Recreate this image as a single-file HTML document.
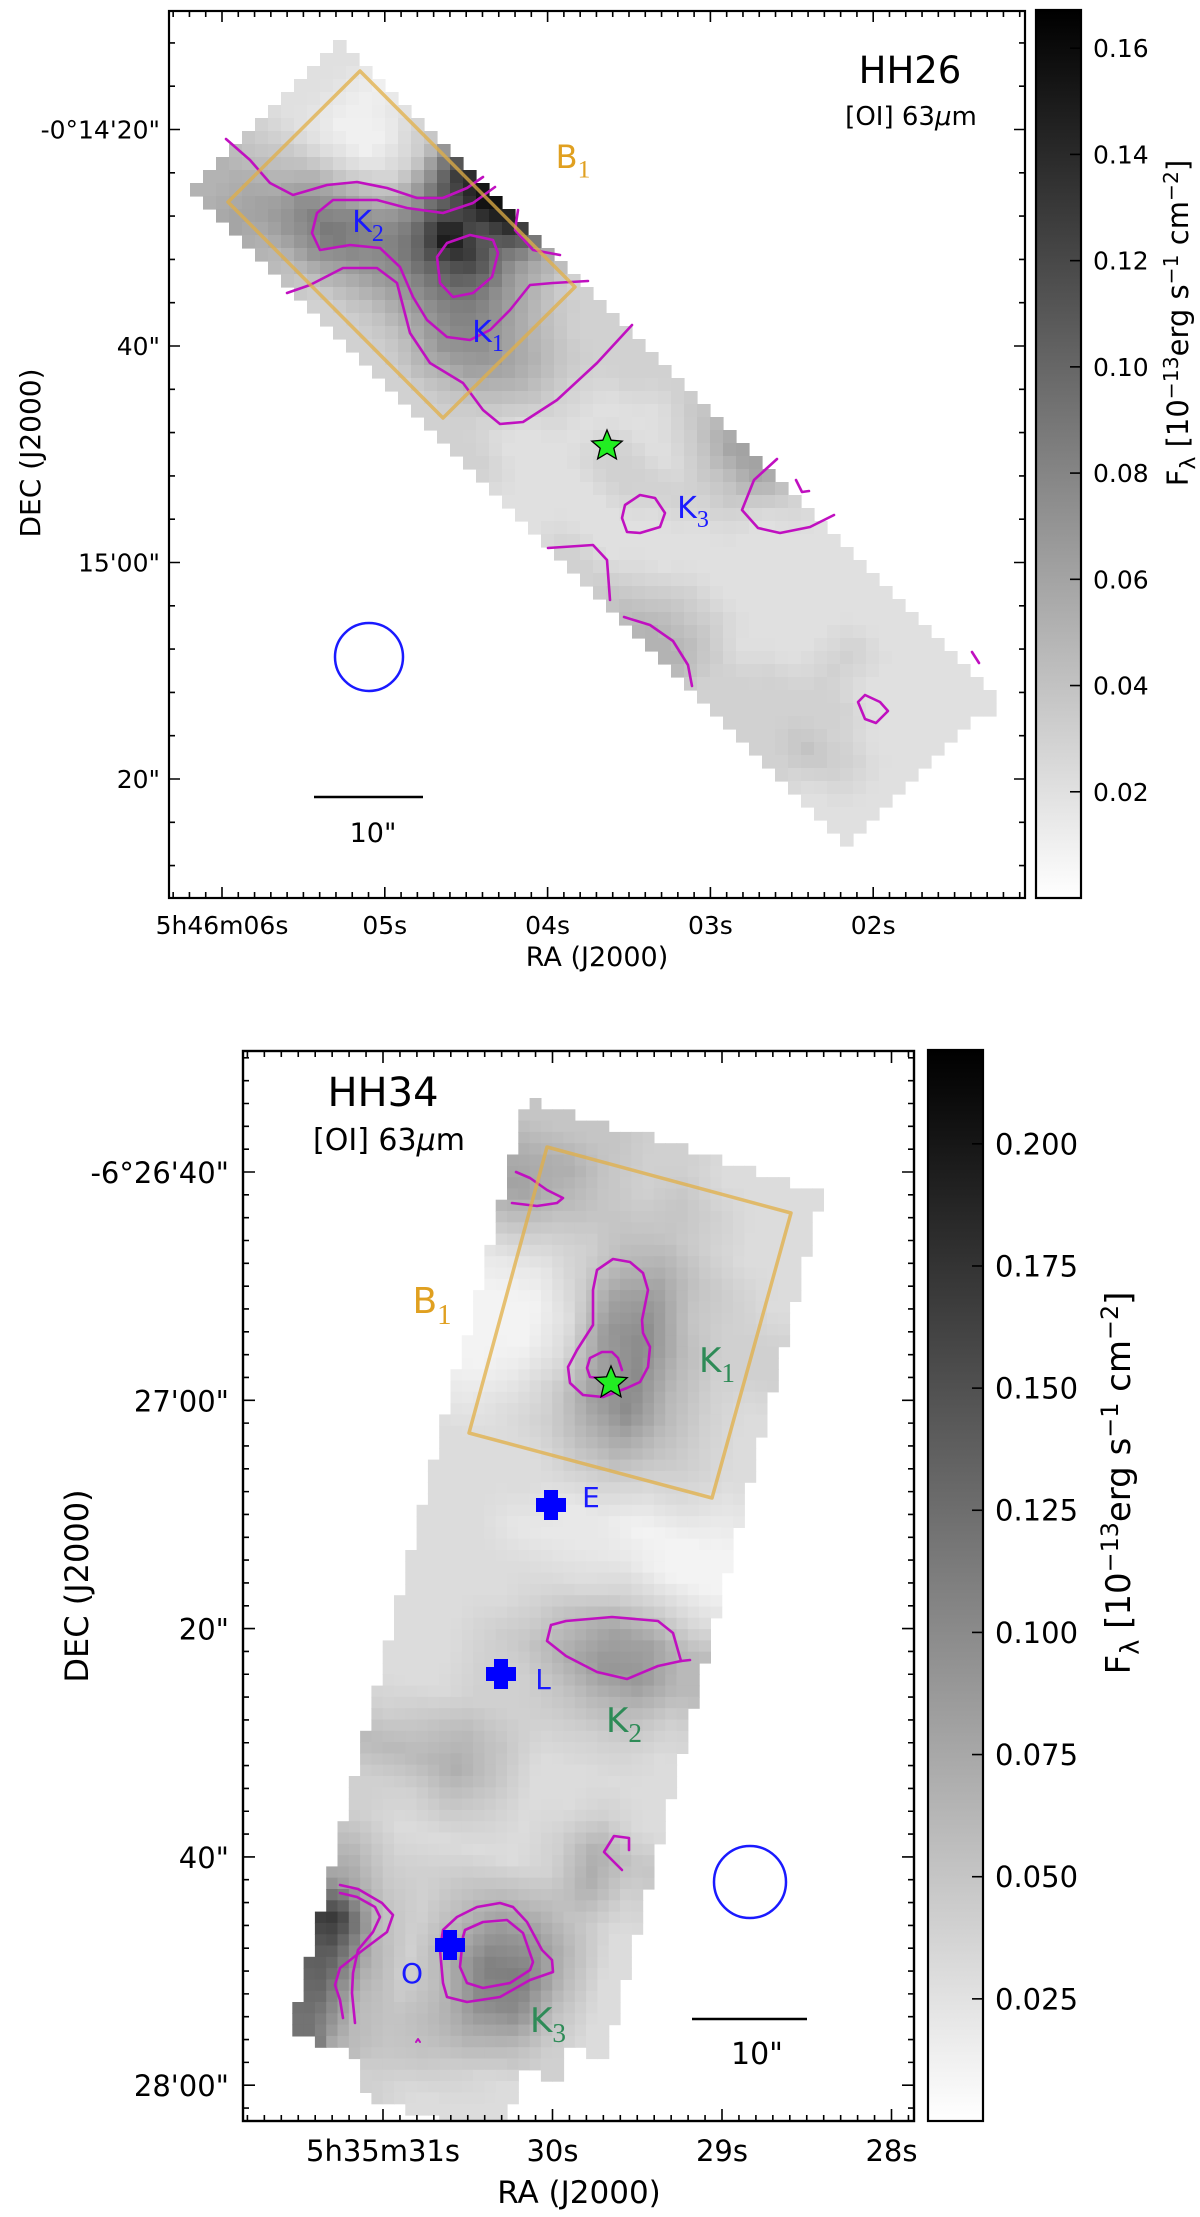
<!DOCTYPE html>
<html><head><meta charset="utf-8"><style>
html,body{margin:0;padding:0;background:#fff;}
svg{display:block;}
text{font-family:"DejaVu Sans","Liberation Sans",sans-serif;}
</style></head>
<body>
<svg id="fig" xmlns="http://www.w3.org/2000/svg" width="1200" height="2217" viewBox="0 0 1200 2217">
<defs>
<linearGradient id="cbgrad" x1="0" y1="1" x2="0" y2="0">
<stop offset="0" stop-color="#ffffff"/><stop offset="1" stop-color="#000000"/>
</linearGradient>
<clipPath id="clipTop"><rect x="169" y="11" width="856" height="887"/></clipPath>
<clipPath id="clipBot"><rect x="243" y="1051" width="671" height="1070"/></clipPath>
</defs>
<g id="topPanel">
<g id="topMap" clip-path="url(#clipTop)"></g>
<g id="topOverlay" clip-path="url(#clipTop)"></g>
<g id="topAxes"></g>
</g>
<g id="botPanel">
<g id="botMap" clip-path="url(#clipBot)"></g>
<g id="botOverlay" clip-path="url(#clipBot)"></g>
<g id="botAxes"></g>
</g>
</svg>
<script>
// ===== DATA: HH26 map (flux in 1e-15 units, rows along strip NW->SE, cols across) =====
const topGrid = [
[5,5,4,3,2,2,2,2],
[6,6,5,4,2,1,1,1],
[5,7,8,6,3,1,1,2],
[4,7,9,8,5,3,3,4],
[3,5,7,8,8,8,10,13],
[3,4,6,8,11,16,12,16],
[3,4,6,8,10,12,10,14],
[3,5,7,8,8,7,6,6],
[3,4,6,7,6,5,4,3],
[3,3,4,5,5,4,3,3],
[3,2,2,3,3,3,3,3],
[2,2,2,2,2,2,3,3],
[2,2,2,3,3,2,2,3],
[3,2,2,3,3,2,3,4],
[3,2,2,2,3,3,4,6],
[4,3,2,2,2,3,4,6],
[5,4,3,2,2,2,2,3],
[5,4,3,2,2,2,2,2],
[3,3,2,2,2,2,2,2],
[3,3,3,2,2,2,2,2],
[3,3,3,3,3,3,2,2],
[3,4,3,3,2,2,2,2],
[2,3,3,2,2,2,2,2],
[2,2,2,2,2,2,2,2]
];
const topVmax = 16.7;
const topRAlabels = ['5h46m06s','05s','04s','03s','02s'];
const topRAsec = [0,1,2,3,4];
const topDecLabels = ['-0°14\'20"','40"','15\'00"','20"'];
const topDecArcsec = [20,40,60,80];
const topCbTicks = [0.02,0.04,0.06,0.08,0.10,0.12,0.14,0.16];
const topCbLabels = ['0.02','0.04','0.06','0.08','0.10','0.12','0.14','0.16'];

// ===== DATA: HH34 map =====
const botGrid = [
[5,5,5,4,4,3,3,3],
[7,7,5,4,5,4,3,3],
[8,6,5,5,5,4,3,3],
[5,4,4,6,7,5,4,3],
[2,2,4,8,9,5,4,4],
[1,1,3,9,10,6,4,4],
[1,1,3,8,10,6,4,3],
[1,2,4,8,10,6,4,3],
[2,3,4,6,7,5,4,3],
[3,3,3,4,4,3,3,2],
[3,3,3,2,2,1,1,1],
[3,3,2,2,2,2,1,1],
[3,3,3,3,3,4,4,3],
[3,3,3,4,6,8,8,6],
[3,3,4,5,7,9,9,6],
[3,3,4,4,5,6,6,4],
[3,3,4,4,4,4,4,3],
[4,5,6,5,3,3,3,3],
[6,6,7,5,3,3,4,3],
[4,4,5,4,3,4,7,5],
[4,3,3,3,3,4,7,4],
[6,4,4,5,6,6,5,3],
[8,5,4,6,9,9,6,3],
[17,6,4,7,11,11,6,3],
[14,7,4,6,10,10,5,3],
[13,6,5,6,7,6,4,-1],
[12,6,5,5,4,3,-1,-1],
[-1,-1,4,3,3,3,-1,-1]
];
const botVmax = 21.9;
const botRAlabels = ['5h35m31s','30s','29s','28s'];
const botRAsec = [0,1,2,3];
const botDecLabels = ['-6°26\'40"','27\'00"','20"','40"','28\'00"'];
const botDecArcsec = [40,60,80,100,120];
const botCbTicks = [0.025,0.050,0.075,0.100,0.125,0.150,0.175,0.200];
const botCbLabels = ['0.025','0.050','0.075','0.100','0.125','0.150','0.175','0.200'];

const NS='http://www.w3.org/2000/svg';
function el(tag, attrs, parent){const e=document.createElementNS(NS,tag);for(const k in attrs)e.setAttribute(k,attrs[k]);if(parent)parent.appendChild(e);return e;}

// ---- axis functions ----
const topX = s => 222 + s*162.8;
const topY = d => 129.5 + (d-20)*10.825;
const topCbY = f => 898 - f/0.167*887;
const botX = s => 383 + s*169.5;
const botY = d => 1172 + (d-40)*11.415;
const botCbY = f => 2121 - f/0.219*1070;

function grayOf(v,vmax){let t=Math.max(0,Math.min(1,v/vmax));const g=Math.round(255*(1-t));return 'rgb('+g+','+g+','+g+')';}

function sampleGrid(grid,u,v){
  const R=grid.length,C=grid[0].length;
  const ni=Math.min(R-1,Math.floor(u*R)), nj=Math.min(C-1,Math.floor(v*C));
  if(grid[ni][nj]<0) return -1;
  const fu=u*R-0.5, fv=v*C-0.5;
  const i0=Math.max(0,Math.min(R-1,Math.floor(fu))), i1=Math.min(R-1,i0+1);
  const j0=Math.max(0,Math.min(C-1,Math.floor(fv))), j1=Math.min(C-1,j0+1);
  const a=Math.max(0,Math.min(1,fu-i0)), b=Math.max(0,Math.min(1,fv-j0));
  const g=(i,j)=>grid[i][j]<0?grid[ni][nj]:grid[i][j];
  return (1-a)*((1-b)*g(i0,j0)+b*g(i0,j1))+a*((1-b)*g(i1,j0)+b*g(i1,j1));
}

function drawMap(parent,grid,vmax,origin,eu,ev,pix,name){
  const det=eu[0]*ev[1]-ev[0]*eu[1];
  const xs=[origin[0],origin[0]+eu[0],origin[0]+ev[0],origin[0]+eu[0]+ev[0]];
  const ys=[origin[1],origin[1]+eu[1],origin[1]+ev[1],origin[1]+eu[1]+ev[1]];
  const x0=Math.min(...xs),x1=Math.max(...xs),y0=Math.min(...ys),y1=Math.max(...ys);
  for(let y=y0;y<y1;y+=pix){for(let x=x0;x<x1;x+=pix){
    const dx=x+pix/2-origin[0], dy=y+pix/2-origin[1];
    const u=(dx*ev[1]-ev[0]*dy)/det, v=(eu[0]*dy-eu[1]*dx)/det;
    if(u<0||u>=1||v<0||v>=1) continue;
    const val=sampleGrid(grid,u,v); if(val<0) continue;
    const r=el('rect',{x:x.toFixed(1),y:y.toFixed(1),width:(pix+0.6).toFixed(1),height:(pix+0.6).toFixed(1),fill:grayOf(val,vmax)},parent);
    
    
  }}
}

function path(parent,pts,closed,color,w,name){
  let d='M'+pts.map(p=>p[0]+','+p[1]).join(' L');
  if(closed)d+=' Z';
  const p=el('path',{d:d,fill:'none',stroke:color,'stroke-width':w,'stroke-linejoin':'round','stroke-linecap':'round'},parent);
  
  
  return p;
}
function txt(parent,x,y,s,attrs,name){const t=el('text',Object.assign({x:x,y:y},attrs),parent);t.textContent=s;return t;}
function subLabel(parent,x,y,main,sub,color,size,name){
  const t=el('text',{x:x,y:y,fill:color,'font-size':size,'text-anchor':'middle'},parent);
  
  
  const a=el('tspan',{},t);a.textContent=main;
  const b=el('tspan',{dy:size*0.3,'font-size':size*0.8,'font-family':'Liberation Serif, serif'},t);b.textContent=sub;
  return t;
}
function star(parent,cx,cy,r,name){
  const pts=[];for(let k=0;k<10;k++){const a=-Math.PI/2+k*Math.PI/5;const rr=k%2?r*0.45:r;pts.push((cx+rr*Math.cos(a)).toFixed(1)+','+(cy+rr*Math.sin(a)).toFixed(1));}
  const p=el('polygon',{points:pts.join(' '),fill:'#22ee22',stroke:'#000','stroke-width':1.3},parent);
  
  
}
function cross(parent,cx,cy,name){
  const p=el('path',{d:`M${cx-7},${cy-15} h14 v8 h8 v14 h-8 v8 h-14 v-8 h-8 v-14 h8 z`,fill:'#0000ff'},parent);
  
  
}

function axesFrame(g,L,R,T,B,xMaj,xMinStep,yMaj,yMinStep,majLen,minLen,lw){
  const f=el('rect',{x:L,y:T,width:R-L,height:B-T,fill:'none',stroke:'#000','stroke-width':lw},g);
  
  
  let d='';
  const x0=xMaj[0];
  for(let k=-40;k<80;k++){const x=x0+k*xMinStep;if(x<=L+1||x>=R-1)continue;const isMaj=xMaj.some(m=>Math.abs(m-x)<1);const len=isMaj?majLen:minLen;d+=`M${x},${B} v${-len} M${x},${T} v${len} `;}
  const y0=yMaj[0];
  for(let k=-40;k<80;k++){const y=y0+k*yMinStep;if(y<=T+1||y>=B-1)continue;const isMaj=yMaj.some(m=>Math.abs(m-y)<1);const len=isMaj?majLen:minLen;d+=`M${L},${y} h${len} M${R},${y} h${-len} `;}
  const t=el('path',{d:d,stroke:'#000','stroke-width':1.6,fill:'none'},g);
  
  
}
function colorbar(g,x,T,w,B,ticks,labels,yfn,fs,name){
  const r=el('rect',{x:x,y:T,width:w,height:B-T,fill:'url(#cbgrad)',stroke:'#000','stroke-width':2.2},g);
  
  
  ticks.forEach((t,i)=>{const y=yfn(t);
    const l=el('line',{x1:x+w,x2:x+w-11,y1:y,y2:y,stroke:'#000','stroke-width':1.6},g);
    
    
    txt(g,x+w+12,y+fs*0.36,labels[i],{'font-size':fs},'colorbar-tick-label');});
}
function cbLabel(g,x,y,fs){
  const t=el('text',{x:0,y:0,'font-size':fs,'text-anchor':'middle',transform:`translate(${x},${y}) rotate(-90)`},g);
  
  
  const parts=[['F',0,1],['λ',0.25,0.75],[' [10',-0.25,1],['−13',-0.35,0.7],['erg s',0.35,1],['−1',-0.35,0.7],[' cm',0.35,1],['−2',-0.35,0.7],[']',0.35,1]];
  parts.forEach(p=>{const s=el('tspan',{dy:p[1]*fs,'font-size':p[2]*fs},t);s.textContent=p[0];});
}

// ================= TOP PANEL =================
const tm=document.getElementById('topMap');
drawMap(tm,topGrid,topVmax,[190,185],[655,660],[155,-145],13,'hh26-pixel');
const to=document.getElementById('topOverlay');
const MAG='#c010c0';
path(to,[[226,139],[250,160],[270,183],[293,195],[327,185],[357,182],[387,188],[417,198],[443,198],[467,188],[483,177]],false,MAG,2.6,'contour');
path(to,[[588,281],[553,283],[530,285],[510,310],[490,330],[470,340],[447,337],[427,320],[413,297],[400,267],[380,248],[350,245],[320,250],[312,233],[317,213],[333,200],[377,200],[407,208],[443,213],[473,203],[495,187]],false,MAG,2.6,'contour-k2');
path(to,[[437,257],[447,243],[470,235],[493,240],[498,253],[492,277],[473,293],[453,297],[440,283],[437,257]],true,MAG,2.6,'contour-peak');
path(to,[[287,293],[310,285],[343,268],[377,268],[397,283],[410,333],[430,363],[463,383],[483,410],[500,424],[523,422],[557,400],[597,363],[632,325]],false,MAG,2.6,'contour');
path(to,[[518,210],[515,230],[533,250],[560,255]],false,MAG,2.6,'contour');
path(to,[[625,505],[640,495],[655,498],[665,513],[660,527],[640,533],[627,532],[622,518]],true,MAG,2.6,'contour-k3');
path(to,[[777,459],[754,480],[742,510],[758,528],[780,533],[810,527],[834,515]],false,MAG,2.6,'contour');
path(to,[[796,480],[802,492],[809,491]],false,MAG,2.6,'contour');
path(to,[[548,548],[593,545],[607,560],[610,600]],false,MAG,2.6,'contour');
path(to,[[624,617],[650,625],[673,641],[688,665],[692,686]],false,MAG,2.6,'contour');
path(to,[[865,695],[880,702],[888,711],[876,723],[865,719],[858,702]],true,MAG,2.6,'contour');
path(to,[[972,652],[979,663]],false,MAG,2.6,'contour');
path(to,[[360,71],[575,287],[443,418],[228,202]],true,'rgba(225,175,70,0.75)',3.5,'b1-box');
subLabel(to,368,232,'K','2','#1a1aff',30,'k2-label');
subLabel(to,488,342,'K','1','#1a1aff',30,'k1-label');
subLabel(to,693,518,'K','3','#1a1aff',30,'k3-label');
subLabel(to,573,168,'B','1','#e0a020',32,'b1-label');
star(to,607,446,16,'source-star');
const bm1=el('ellipse',{cx:369,cy:657,rx:34,ry:34,fill:'none',stroke:'#1a1aff','stroke-width':2.5},to);


const sb1=el('line',{x1:314,x2:423,y1:797,y2:797,stroke:'#000','stroke-width':2.5},to);


txt(to,373,842,'10"',{'font-size':27,'text-anchor':'middle'},'scale-bar-label');
txt(to,910,83,'HH26',{'font-size':37,'text-anchor':'middle'},'object-title');
const lt1=txt(to,911,125,'',{'font-size':26,'text-anchor':'middle'},'line-title');
lt1.innerHTML='[OI] 63<tspan font-style="italic">μ</tspan>m';

const ta=document.getElementById('topAxes');
axesFrame(ta,169,1025,11,898,topRAsec.map(topX),16.28,topDecArcsec.map(topY),43.3,11,6,2.2);
topRAsec.forEach((s,i)=>txt(ta,topX(s),934,topRAlabels[i],{'font-size':25,'text-anchor':'middle'},'x-tick-label'));
topDecArcsec.forEach((d,i)=>txt(ta,160,topY(d)+9,topDecLabels[i],{'font-size':25,'text-anchor':'end'},'y-tick-label'));
txt(ta,597,966,'RA (J2000)',{'font-size':27,'text-anchor':'middle'},'x-axis-title');
txt(ta,0,0,'DEC (J2000)',{'font-size':28,'text-anchor':'middle',transform:'translate(40,453) rotate(-90)'},'y-axis-title');
colorbar(ta,1036,10,45,898,topCbTicks,topCbLabels,topCbY,25,'hh26-colorbar');
cbLabel(ta,1188,323,29);

// ================= BOTTOM PANEL =================
const bmp=document.getElementById('botMap');
drawMap(bmp,botGrid,botVmax,[526,1098],[-245,970],[297,96],11.3,'hh34-pixel');
const bo=document.getElementById('botOverlay');
path(bo,[[516,1172],[530,1178],[547,1190],[563,1198],[557,1203],[537,1206],[512,1203]],false,MAG,2.6,'contour');
path(bo,[[613,1259],[630,1262],[643,1273],[648,1290],[642,1320],[643,1333],[650,1347],[648,1367],[640,1382],[627,1388],[603,1397],[583,1395],[570,1383],[568,1367],[577,1350],[593,1325],[593,1290],[597,1270],[613,1259]],true,MAG,2.6,'contour-k1');
path(bo,[[622,1370],[618,1358],[612,1352],[602,1352],[590,1358],[587,1368],[590,1377],[600,1378]],false,MAG,2.6,'contour-k1-inner');
path(bo,[[551,1625],[547,1641],[566,1656],[597,1672],[627,1679],[658,1666],[681,1661],[673,1633],[658,1621],[612,1617],[566,1621],[551,1625]],false,MAG,2.6,'contour-k2');
path(bo,[[681,1661],[690,1660]],false,MAG,2.6,'contour');
path(bo,[[629,1850],[629,1838],[614,1836],[604,1852],[622,1870]],false,MAG,2.6,'contour');
path(bo,[[340,1885],[358,1889],[382,1903],[393,1915],[387,1932],[363,1950],[340,1968],[335,1985],[340,2000],[343,2018]],false,MAG,2.6,'contour');
path(bo,[[340,1893],[357,1897],[375,1907],[380,1917],[373,1932],[358,1950],[353,1973],[352,1993],[355,2023]],false,MAG,2.6,'contour');
path(bo,[[440,1950],[443,1930],[457,1917],[477,1907],[500,1903],[513,1907],[527,1922],[542,1950],[552,1960],[553,1972],[530,1980],[500,1997],[467,2002],[447,1997],[443,1983],[440,1950]],true,MAG,2.6,'contour-k3-outer');
path(bo,[[465,1930],[483,1922],[507,1920],[523,1933],[533,1962],[530,1970],[510,1983],[483,1988],[467,1983],[460,1967],[463,1937],[465,1930]],true,MAG,2.6,'contour-k3-inner');
path(bo,[[416,2042],[418,2039],[420,2042]],false,MAG,2,'contour');
path(bo,[[547,1147],[791,1213],[712,1498],[469,1433]],true,'rgba(225,175,70,0.75)',3.5,'b1-box');
star(bo,611,1383,17,'source-star');
cross(bo,551,1505,'cross-e');cross(bo,501,1674,'cross-l');cross(bo,450,1945,'cross-o');
txt(bo,591,1507,'E',{'font-size':28,fill:'#1a1aff','text-anchor':'middle'},'e-label');
txt(bo,543,1689,'L',{'font-size':28,fill:'#1a1aff','text-anchor':'middle'},'l-label');
txt(bo,412,1983,'O',{'font-size':28,fill:'#1a1aff','text-anchor':'middle'},'o-label');
subLabel(bo,717,1372,'K','1','#2e8b57',34,'k1-label');
subLabel(bo,624,1732,'K','2','#2e8b57',34,'k2-label');
subLabel(bo,548,2032,'K','3','#2e8b57',34,'k3-label');
subLabel(bo,432,1313,'B','1','#e0a020',36,'b1-label');
const bm2=el('ellipse',{cx:750,cy:1882,rx:36,ry:36,fill:'none',stroke:'#1a1aff','stroke-width':2.5},bo);


const sb2=el('line',{x1:692,x2:807,y1:2019,y2:2019,stroke:'#000','stroke-width':2.5},bo);


txt(bo,757,2064,'10"',{'font-size':30,'text-anchor':'middle'},'scale-bar-label');
txt(bo,383,1106,'HH34',{'font-size':40,'text-anchor':'middle'},'object-title');
const lt2=txt(bo,389,1150,'',{'font-size':30,'text-anchor':'middle'},'line-title');
lt2.innerHTML='[OI] 63<tspan font-style="italic">μ</tspan>m';

const ba=document.getElementById('botAxes');
axesFrame(ba,243,914,1051,2121,botRAsec.map(botX),16.95,botDecArcsec.map(botY),22.83,12,6,2.4);
botRAsec.forEach((s,i)=>txt(ba,botX(s),2161,botRAlabels[i],{'font-size':29,'text-anchor':'middle'},'x-tick-label'));
botDecArcsec.forEach((d,i)=>txt(ba,229,botY(d)+11,botDecLabels[i],{'font-size':29,'text-anchor':'end'},'y-tick-label'));
txt(ba,579,2203,'RA (J2000)',{'font-size':31,'text-anchor':'middle'},'x-axis-title');
txt(ba,0,0,'DEC (J2000)',{'font-size':32,'text-anchor':'middle',transform:'translate(88,1586) rotate(-90)'},'y-axis-title');
colorbar(ba,928,1050,55,2121,botCbTicks,botCbLabels,botCbY,29,'hh34-colorbar');
cbLabel(ba,1130,1483,34);
</script>
</body></html>
